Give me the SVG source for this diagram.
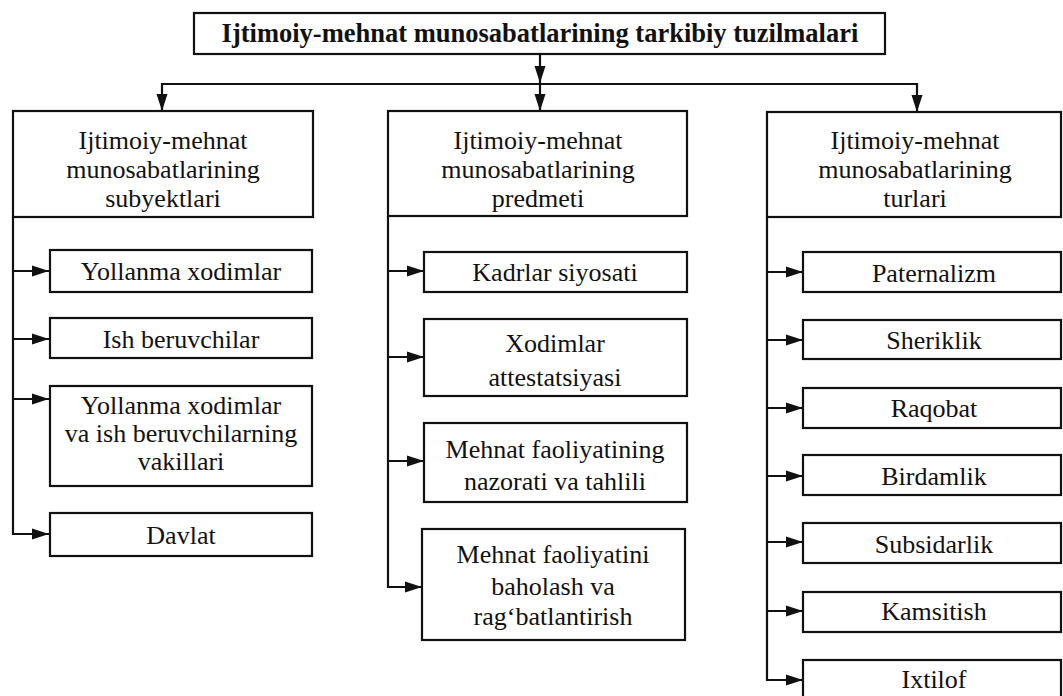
<svg xmlns="http://www.w3.org/2000/svg" width="1063" height="696" viewBox="0 0 1063 696">
<defs>
<style>
.box{fill:#fff;stroke:#111;stroke-width:2.2}
.t{font-family:"Liberation Serif","Times New Roman",serif;font-size:26px;fill:#111;text-anchor:middle}
.tb{font-family:"Liberation Serif","Times New Roman",serif;font-size:26.5px;font-weight:bold;fill:#111;text-anchor:middle}
.c{fill:none;stroke:#111;stroke-width:2.2}
</style>
<marker id="ah" markerUnits="userSpaceOnUse" markerWidth="18" markerHeight="12" refX="17" refY="6" orient="auto">
<path d="M0,0.5 L17,6 L0,11.5 z" fill="#111"/>
</marker>
</defs>
<rect width="1063" height="696" fill="#fff"/>
<g id="connectors">
<path class="c" d="M540,54 V83" marker-end="url(#ah)"/>
<path class="c" d="M540,84 H162 V111" marker-end="url(#ah)"/>
<path class="c" d="M540,84 H917 V112" marker-end="url(#ah)"/>
<path class="c" d="M540,84 V111" marker-end="url(#ah)"/>
<path class="c" d="M13,217 V534 H49" marker-end="url(#ah)"/>
<path class="c" d="M13,271 H49" marker-end="url(#ah)"/>
<path class="c" d="M13,339 H49" marker-end="url(#ah)"/>
<path class="c" d="M13,399 H49" marker-end="url(#ah)"/>
<path class="c" d="M388,216 V587 H422" marker-end="url(#ah)"/>
<path class="c" d="M388,271 H424" marker-end="url(#ah)"/>
<path class="c" d="M388,357 H424" marker-end="url(#ah)"/>
<path class="c" d="M388,461 H424" marker-end="url(#ah)"/>
<path class="c" d="M767,217 V680 H803" marker-end="url(#ah)"/>
<path class="c" d="M767,272 H803" marker-end="url(#ah)"/>
<path class="c" d="M767,340 H803" marker-end="url(#ah)"/>
<path class="c" d="M767,408 H803" marker-end="url(#ah)"/>
<path class="c" d="M767,476 H803" marker-end="url(#ah)"/>
<path class="c" d="M767,542 H803" marker-end="url(#ah)"/>
<path class="c" d="M767,611 H803" marker-end="url(#ah)"/>
</g>
<g id="title">
<rect class="box" x="194" y="13" width="691" height="41"/>
<text class="tb" x="540" y="42">Ijtimoiy-mehnat munosabatlarining tarkibiy tuzilmalari</text>
</g>
<g id="subyektlari">
<rect class="box" x="13" y="111" width="300" height="106"/>
<text class="t" x="163" y="149">Ijtimoiy-mehnat</text>
<text class="t" x="163" y="178">munosabatlarining</text>
<text class="t" x="163" y="207">subyektlari</text>
</g>
<g id="predmeti">
<rect class="box" x="388" y="111" width="299" height="105"/>
<text class="t" x="538" y="149">Ijtimoiy-mehnat</text>
<text class="t" x="538" y="178">munosabatlarining</text>
<text class="t" x="538" y="207">predmeti</text>
</g>
<g id="turlari">
<rect class="box" x="767" y="112" width="294" height="105"/>
<text class="t" x="915" y="149">Ijtimoiy-mehnat</text>
<text class="t" x="915" y="178">munosabatlarining</text>
<text class="t" x="915" y="207">turlari</text>
</g>
<g id="yollanma">
<rect class="box" x="50" y="250" width="262" height="42"/>
<text class="t" x="181" y="280">Yollanma xodimlar</text>
</g>
<g id="ishberuvchilar">
<rect class="box" x="50" y="318" width="262" height="40"/>
<text class="t" x="181" y="348">Ish beruvchilar</text>
</g>
<g id="vakillar">
<rect class="box" x="50" y="386" width="262" height="100"/>
<text class="t" x="181" y="414">Yollanma xodimlar</text>
<text class="t" x="181" y="442">va ish beruvchilarning</text>
<text class="t" x="181" y="470">vakillari</text>
</g>
<g id="davlat">
<rect class="box" x="50" y="513" width="262" height="43"/>
<text class="t" x="181" y="544">Davlat</text>
</g>
<g id="kadrlar">
<rect class="box" x="424" y="252" width="263" height="40"/>
<text class="t" x="555" y="281">Kadrlar siyosati</text>
</g>
<g id="attestatsiya">
<rect class="box" x="424" y="319" width="263" height="77"/>
<text class="t" x="555" y="352">Xodimlar</text>
<text class="t" x="555" y="386">attestatsiyasi</text>
</g>
<g id="nazorat">
<rect class="box" x="424" y="423" width="263" height="79"/>
<text class="t" x="555" y="458">Mehnat faoliyatining</text>
<text class="t" x="555" y="490">nazorati va tahlili</text>
</g>
<g id="baholash">
<rect class="box" x="422" y="529" width="263" height="111"/>
<text class="t" x="553" y="563">Mehnat faoliyatini</text>
<text class="t" x="553" y="595">baholash va</text>
<text class="t" x="553" y="625">rag‘batlantirish</text>
</g>
<g id="paternalizm">
<rect class="box" x="803" y="252" width="258" height="40"/>
<text class="t" x="934" y="282">Paternalizm</text>
</g>
<g id="sheriklik">
<rect class="box" x="803" y="320" width="258" height="39"/>
<text class="t" x="934" y="349">Sheriklik</text>
</g>
<g id="raqobat">
<rect class="box" x="803" y="388" width="258" height="40"/>
<text class="t" x="934" y="417">Raqobat</text>
</g>
<g id="birdamlik">
<rect class="box" x="803" y="455" width="258" height="40"/>
<text class="t" x="934" y="485">Birdamlik</text>
</g>
<g id="subsidarlik">
<rect class="box" x="803" y="523" width="258" height="40"/>
<text class="t" x="934" y="553">Subsidarlik</text>
</g>
<g id="kamsitish">
<rect class="box" x="803" y="592" width="258" height="40"/>
<text class="t" x="934" y="620">Kamsitish</text>
</g>
<g id="ixtilof">
<rect class="box" x="803" y="660" width="258" height="40"/>
<text class="t" x="934" y="688">Ixtilof</text>
</g>
</svg>
